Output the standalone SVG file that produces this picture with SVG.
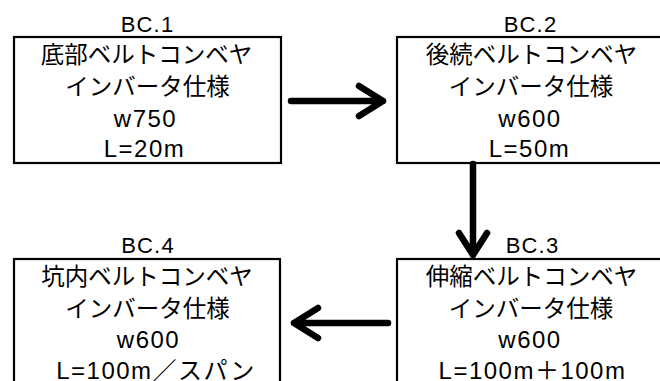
<svg xmlns="http://www.w3.org/2000/svg" width="660" height="381" viewBox="0 0 660 381">
<style>
.box{fill:#fff;stroke:#000;stroke-width:2.2}
.t{font-family:"Liberation Sans","Noto Sans CJK JP",sans-serif;font-size:23.5px;fill:#000;text-anchor:middle}
.lat{font-size:24px;letter-spacing:1.5px}
.lbl{font-family:"Liberation Sans","Noto Sans CJK JP",sans-serif;font-size:22px;letter-spacing:1.2px;fill:#000;text-anchor:middle}
.arr{fill:none;stroke:#000;stroke-width:6.5;stroke-linecap:round;stroke-linejoin:round}
</style>
<rect width="660" height="381" fill="#fff"/>
<g id="bc1">
<text class="lbl" x="147.5" y="32">BC.1</text>
<rect class="box" x="14" y="37" width="267" height="126"/>
<text class="t" x="146.5" y="63">底部ベルトコンベヤ</text>
<text class="t" x="147.5" y="95">インバータ仕様</text>
<text class="t lat" x="145.5" y="127">w750</text>
<text class="t lat" x="144.5" y="157">L=20m</text>
</g>
<g id="bc2">
<text class="lbl" x="530.5" y="32">BC.2</text>
<rect class="box" x="397" y="37" width="267" height="126"/>
<text class="t" x="531.5" y="63">後続ベルトコンベヤ</text>
<text class="t" x="531" y="95">インバータ仕様</text>
<text class="t lat" x="530" y="127">w600</text>
<text class="t lat" x="529.5" y="157">L=50m</text>
</g>
<g id="bc3">
<text class="lbl" x="532.5" y="253">BC.3</text>
<rect class="box" x="397" y="259" width="267" height="126"/>
<text class="t" x="531.5" y="285">伸縮ベルトコンベヤ</text>
<text class="t" x="531" y="317">インバータ仕様</text>
<text class="t lat" x="530" y="348">w600</text>
<text class="t lat" x="532.5" y="379">L=100m＋100m</text>
</g>
<g id="bc4">
<text class="lbl" x="148" y="253">BC.4</text>
<rect class="box" x="14" y="259" width="266" height="126"/>
<text class="t" x="147" y="285">坑内ベルトコンベヤ</text>
<text class="t" x="147.5" y="317">インバータ仕様</text>
<text class="t lat" x="148.5" y="348">w600</text>
<text class="t lat" x="156" y="379">L=100m／スパン</text>
</g>
<g id="connectors">
<path class="arr" d="M291 101 H383 M359 86 L383 101 L359 116"/>
<path class="arr" d="M473 164 V255 M459 233 L473 255 L487 233"/>
<path class="arr" d="M388 323 H294 M318 308 L294 323 L318 338"/>
</g>
</svg>
